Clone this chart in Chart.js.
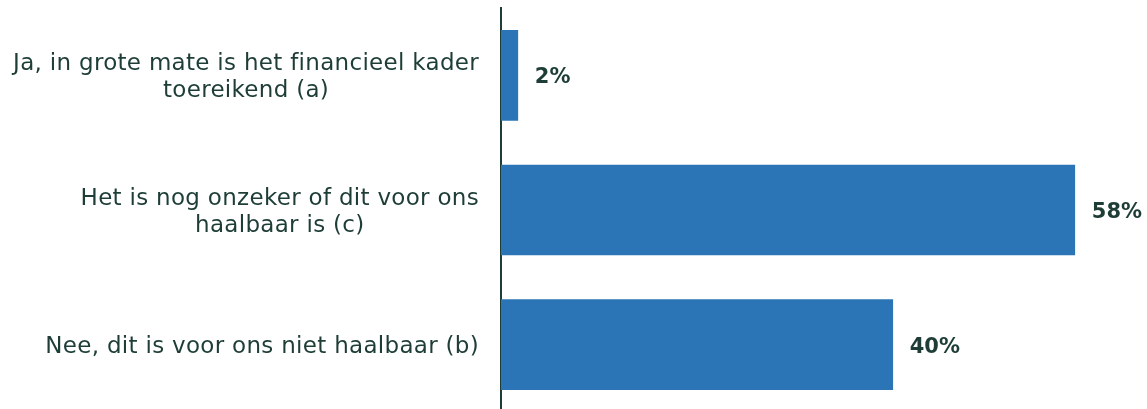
<!DOCTYPE html>
<html>
<head>
<meta charset="utf-8">
<script src="https://cdn.jsdelivr.net/npm/chart.js@4"></script>
<style>
html,body{margin:0;padding:0;background:#fff;overflow:hidden;width:1147px;height:409px;}
#wrap{width:1147px;height:412px;}
</style>
</head>
<body>
<div id="wrap"><canvas id="c" width="1147" height="412"></canvas></div>
<script>
const categories = [
  ["Ja, in grote mate is het financieel kader", "toereikend (a)"],
  ["Het is nog onzeker of dit voor ons", "haalbaar is (c)"],
  ["Nee, dit is voor ons niet haalbaar (b)"]
];
const values = [1.7, 58, 39.6];
const valueLabels = ["2%", "58%", "40%"];

const textColor = "#1d3d36";
const barColor = "#2b74b5";
const labelFont = "23px 'DejaVu Sans'";
const valueFont = "bold 21px 'DejaVu Sans'";

const customLabels = {
  id: "customLabels",
  afterDatasetsDraw(chart) {
    const ctx = chart.ctx;
    const meta = chart.getDatasetMeta(0);
    const yScale = chart.scales.y;
    ctx.save();
    ctx.fillStyle = textColor;
    ctx.textBaseline = "alphabetic";
    // value labels
    ctx.font = valueFont;
    ctx.textAlign = "left";
    meta.data.forEach((bar, i) => {
      ctx.fillText(valueLabels[i], bar.x + 17, bar.y + 8);
    });
    // category labels: block right-aligned, lines centred
    ctx.font = labelFont;
    if ("letterSpacing" in ctx) ctx.letterSpacing = "0.3px";
    ctx.textAlign = "center";
    const lineH = 27.4;
    const rightEdge = chart.chartArea.left - 22;
    categories.forEach((lines, i) => {
      const y = yScale.getPixelForTick(i);
      const widths = lines.map(l => ctx.measureText(l).width);
      const maxW = Math.max(...widths);
      const cx = rightEdge - maxW / 2;
      lines.forEach((l, k) => {
        const by = y + 8.3 + (k - (lines.length - 1) / 2) * lineH;
        ctx.fillText(l, cx, by);
      });
    });
    ctx.restore();
  }
};

new Chart(document.getElementById("c"), {
  type: "bar",
  data: {
    labels: categories,
    datasets: [{
      data: values,
      backgroundColor: barColor,
      borderWidth: 0,
      barThickness: 90
    }]
  },
  options: {
    indexAxis: "y",
    responsive: false,
    animation: false,
    layout: { padding: { top: 8, bottom: 0, right: 0, left: 0 } },
    plugins: { legend: { display: false }, tooltip: { enabled: false } },
    scales: {
      x: { display: false, min: 0, max: 65.3 },
      y: {
        grid: { display: false, drawTicks: false },
        border: { display: true, color: textColor, width: 2 },
        ticks: { display: false },
        afterFit(scale) { scale.width = 501; scale.paddingTop = 0; scale.paddingBottom = 0; }
      }
    }
  },
  plugins: [customLabels]
});
</script>
</body>
</html>
